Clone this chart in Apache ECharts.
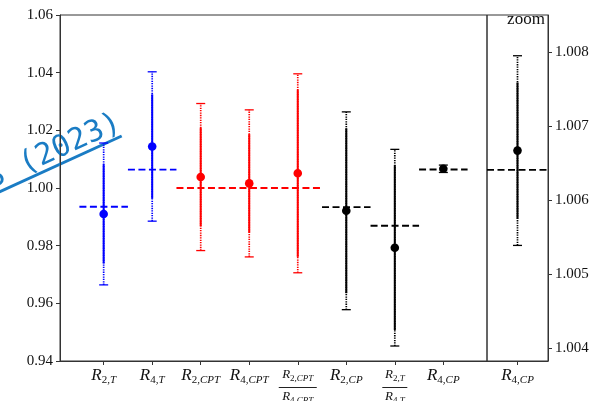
<!DOCTYPE html>
<html>
<head>
<meta charset="utf-8">
<script src="https://cdn.jsdelivr.net/npm/echarts@6/dist/echarts.min.js"></script>
<style>
    html, body { margin: 0; padding: 0; background: #fff; }
    #chart { width: 606px; height: 401px; }
</style>
</head>
<body>
<div id="chart"></div>
<script>
// categories (sub-scripts of R, "a/b" means a fraction)
const categories = ['2,T', '4,T', '2,CPT', '4,CPT', '2,CPT/4,CPT', '2,CP', '2,T/4,T', '4,CP']
const xPos = [1, 2, 3, 4, 5, 6, 7, 8]
const values = [0.9910, 1.0144, 1.0038, 1.0016, 1.0051, 0.9921, 0.9793, 1.00667]
const statErr = [0.0172, 0.0181, 0.0171, 0.0171, 0.0290, 0.0286, 0.0286, 0.00092]
const totErr = [0.0246, 0.0259, 0.0255, 0.0255, 0.0345, 0.0343, 0.0341, 0.00128]
const colorIdx = [0, 0, 1, 1, 1, 2, 2, 2]
const colors = ['#0000ff', '#ff0000', '#000000']

// theory predictions (dashed)
const theoryStart = [0.5, 1.5, 2.5, 5.5, 6.5, 7.5]
const theoryEnd = [1.5, 2.5, 5.5, 6.5, 7.5, 8.5]
const theoryValue = [0.9935, 1.00640, 1.0000, 0.9934, 0.9869, 1.00641]
const theoryColor = [0, 0, 1, 2, 2, 2]

const yTicks = [0.94, 0.96, 0.98, 1.00, 1.02, 1.04, 1.06]
const zoomTicks = [1.004, 1.005, 1.006, 1.007, 1.008]
const zoomIndex = 7

const serif = 'Liberation Serif'

// p: '' normal label, 'f' fraction numerator, 'd' fraction denominator
const mathLabel = (sub, p) => {
    return `{${p}R|R}` + sub.split(/([0-9,]+)/).filter(Boolean)
        .map(t => /[0-9,]/.test(t) ? `{${p}sd|${t}}` : `{${p}si|${t}}`).join('')
}
const barWidth = (sub) => Math.round(5.5 + 6.5 * sub.length)
const makeLabel = (sub) => {
    if (sub.indexOf('/') < 0) return mathLabel(sub, '')
    const [num, den] = sub.split('/')
    return mathLabel(num, 'f') + '\n{gap| }\n{bar' + barWidth(num) + '| }\n' + mathLabel(den, 'd')
}

const tok = (size, italic, pad, lh) => ({
    fontFamily: serif, fontStyle: italic ? 'italic' : 'normal', fontSize: size,
    lineHeight: lh, padding: pad, verticalAlign: 'top', color: '#111',
})
const rich = {
    R: tok(17, true, [0, 0, 0, 0], 18),
    sd: tok(11, false, [8, 0, 0, 0], 11),
    si: tok(11, true, [8, 0, 0, 0], 11),
    fR: tok(13, true, [1, 0, 0, 0], 14),
    fsd: tok(9, false, [7, 0, 0, 0], 9),
    fsi: tok(9, true, [7, 0, 0, 0], 9),
    dR: tok(13, true, [2, 0, 0, 0], 14),
    dsd: tok(9, false, [8, 0, 0, 0], 9),
    dsi: tok(9, true, [8, 0, 0, 0], 9),
    gap: { fontSize: 1, lineHeight: 6, height: 6, padding: 0 },
}
categories.forEach(c => {
    if (c.indexOf('/') >= 0) {
        const w = barWidth(c.split('/')[0])
        rich['bar' + w] = { width: w, height: 1, fontSize: 1, lineHeight: 1, backgroundColor: '#222', padding: 0 }
    }
})

const errData = xPos.map((x, i) => [x, values[i], statErr[i], totErr[i], colorIdx[i]])
const zoomErrData = [[0, values[zoomIndex], statErr[zoomIndex], totErr[zoomIndex], colorIdx[zoomIndex]]]
const theoryData = theoryStart.map((s, i) => [s, theoryEnd[i], theoryValue[i], theoryColor[i]])
const zoomTheoryData = [[-0.5, 0.5, theoryValue[theoryValue.length - 1], theoryColor[theoryColor.length - 1]]]

const renderErr = (params, api) => {
    const x = api.value(0), y = api.value(1), stat = api.value(2), tot = api.value(3)
    const c = colors[api.value(4)]
    const lo = api.coord([x, y - tot]), hi = api.coord([x, y + tot])
    const slo = api.coord([x, y - stat]), shi = api.coord([x, y + stat])
    const p = api.coord([x, y])
    return {
        type: 'group',
        children: [
            { type: 'line', shape: { x1: lo[0], y1: lo[1], x2: hi[0], y2: hi[1] }, style: { stroke: c, lineWidth: 1.7, lineDash: [1.3, 1.1] } },
            { type: 'line', shape: { x1: slo[0], y1: slo[1], x2: shi[0], y2: shi[1] }, style: { stroke: c, lineWidth: 2 } },
            { type: 'line', shape: { x1: lo[0] - 4.5, y1: lo[1], x2: lo[0] + 4.5, y2: lo[1] }, style: { stroke: c, lineWidth: 1.3 } },
            { type: 'line', shape: { x1: hi[0] - 4.5, y1: hi[1], x2: hi[0] + 4.5, y2: hi[1] }, style: { stroke: c, lineWidth: 1.3 } },
            { type: 'circle', shape: { cx: p[0], cy: p[1], r: 4.3 }, style: { fill: c } },
        ],
    }
}
const renderTheory = (params, api) => {
    const a = api.coord([api.value(0), api.value(2)]), b = api.coord([api.value(1), api.value(2)])
    return {
        type: 'line',
        shape: { x1: a[0], y1: a[1], x2: b[0], y2: b[1] },
        style: { stroke: colors[api.value(3)], lineWidth: 1.8, lineDash: [7, 3.5] },
    }
}

const axisLine = { show: true, onZero: false, lineStyle: { color: '#333', width: 1 } }
const axisTick = { show: true, inside: false, length: 4, lineStyle: { color: '#333' } }

const chart = echarts.init(document.getElementById('chart'))
chart.setOption({
    animation: false,
    backgroundColor: '#fff',
    grid: [
        { left: 60, top: 15, width: 427, height: 346, show: true, borderColor: '#333', borderWidth: 1, outerBoundsMode: 'none', containLabel: false },
        { left: 487, top: 15, width: 61, height: 346, show: true, borderColor: '#333', borderWidth: 1, outerBoundsMode: 'none', containLabel: false },
    ],
    xAxis: [
        {
            gridIndex: 0, type: 'value', min: 0.1, max: 8.9,
            axisLine, splitLine: { show: false },
            axisTick: { ...axisTick, customValues: xPos },
            axisLabel: { customValues: xPos, margin: 6, formatter: v => makeLabel(categories[Math.round(v) - 1]), rich },
        },
        {
            gridIndex: 1, type: 'value', min: -0.5, max: 0.5,
            axisLine, splitLine: { show: false },
            axisTick: { ...axisTick, customValues: [0] },
            axisLabel: { customValues: [0], margin: 6, formatter: () => makeLabel(categories[zoomIndex]), rich },
        },
    ],
    yAxis: [
        {
            gridIndex: 0, type: 'value', min: 0.94, max: 1.06, interval: 0.02,
            axisLine, splitLine: { show: false },
            axisTick: { ...axisTick, customValues: yTicks },
            axisLabel: { customValues: yTicks, margin: 7, fontFamily: serif, fontSize: 15, color: '#111', formatter: v => v.toFixed(2) },
        },
        {
            gridIndex: 1, type: 'value', position: 'right', min: 1.00383, max: 1.0085,
            axisLine, splitLine: { show: false },
            axisTick: { ...axisTick, customValues: zoomTicks },
            axisLabel: { customValues: zoomTicks, margin: 7, fontFamily: serif, fontSize: 15, color: '#111', formatter: v => v.toFixed(3) },
        },
    ],
    graphic: [
        {
            type: 'text', z: 10,
            style: { text: 'zoom', x: 526, y: 28, align: 'center', verticalAlign: 'bottom', font: '17px "Liberation Serif"', fill: '#111' },
        },
        {
            type: 'group', x: 121.7, y: 136, rotation: 0.429, z: 20,
            children: [
                { type: 'line', shape: { x1: -220, y1: 0, x2: 0, y2: 0 }, style: { stroke: '#1a7cc4', lineWidth: 3 } },
                { type: 'text', style: { text: '3 (2023)', x: 4, y: 1, align: 'right', verticalAlign: 'bottom', font: '30px "DejaVu Sans Mono"', fill: '#1a7cc4' } },
            ],
        },
    ],
    series: [
        { type: 'custom', xAxisIndex: 0, yAxisIndex: 0, renderItem: renderErr, data: errData, z: 3 },
        { type: 'custom', xAxisIndex: 0, yAxisIndex: 0, renderItem: renderTheory, data: theoryData, z: 4 },
        { type: 'custom', xAxisIndex: 1, yAxisIndex: 1, renderItem: renderErr, data: zoomErrData, z: 3 },
        { type: 'custom', xAxisIndex: 1, yAxisIndex: 1, renderItem: renderTheory, data: zoomTheoryData, z: 4 },
    ],
})
</script>
</body>
</html>
